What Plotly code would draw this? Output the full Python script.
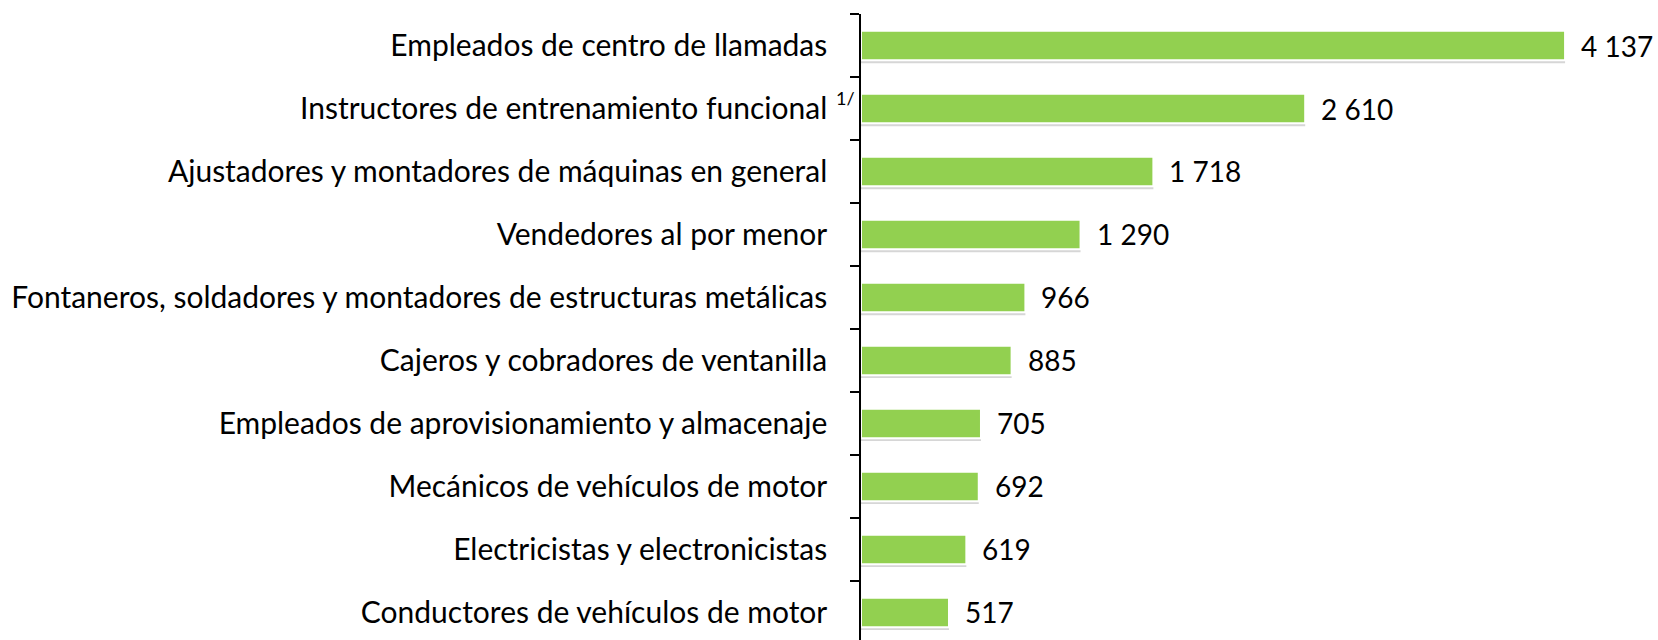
import plotly.graph_objects as go

categories = [
    "Empleados de centro de llamadas",
    "Instructores de entrenamiento funcional",
    "Ajustadores y montadores de máquinas en general",
    "Vendedores al por menor",
    "Fontaneros, soldadores y montadores de estructuras metálicas",
    "Cajeros y cobradores de ventanilla",
    "Empleados de aprovisionamiento y almacenaje",
    "Mecánicos de vehículos de motor",
    "Electricistas y electronicistas",
    "Conductores de vehículos de motor",
]
values = [4137, 2610, 1718, 1290, 966, 885, 705, 692, 619, 517]
value_labels = [f"{v:,}".replace(",", " ") for v in values]
footnote_category = "Instructores de entrenamiento funcional"
footnote_text = "1/"

FONT = "Lato"
GREEN = "#92D050"

fig = go.Figure()
# soft shadow under the bars
fig.add_trace(go.Bar(
    x=values, y=categories, orientation="h",
    marker=dict(color="rgba(0,0,0,0.16)", line=dict(width=0)),
    width=0.47, offset=-0.19, hoverinfo="skip",
))
fig.add_trace(go.Bar(
    x=values, y=categories, orientation="h",
    marker=dict(color=GREEN, line=dict(color="white", width=2)),
    width=0.47, offset=-0.235, hoverinfo="skip",
))

for c, lab, v in zip(categories, value_labels, values):
    fig.add_annotation(x=v, y=c, xref="x", yref="y", text=lab, showarrow=False,
                       xanchor="left", yanchor="middle", xshift=14,
                       font=dict(family=FONT, size=28, color="black"))

fig.add_annotation(x=0, y=footnote_category, xref="paper", yref="y", text=footnote_text,
                   showarrow=False, xanchor="right", yanchor="middle", xshift=-4, yshift=11,
                   font=dict(family=FONT, size=18, color="black"))

fig.update_layout(
    width=1658, height=640,
    margin=dict(l=861, r=0, t=14, b=0, autoexpand=False),
    paper_bgcolor="white", plot_bgcolor="white",
    showlegend=False, barmode="overlay",
    font=dict(family=FONT, size=30, color="black"),
    xaxis=dict(visible=False, range=[0, 4683], automargin=False),
    yaxis=dict(
        type="category", range=[9.437, -0.5], automargin=False,
        showline=True, linecolor="black", linewidth=1.5,
        ticks="outside", ticklen=9, tickcolor="black", tickwidth=1.5,
        tickson="boundaries", showgrid=False, zeroline=False,
        ticklabelstandoff=26,
        tickfont=dict(family=FONT, size=30, color="black"),
    ),
)

fig.write_html("out.html", config={"displayModeBar": False},
               post_script="document.body.style.margin='0px';document.body.style.overflow='hidden';")
